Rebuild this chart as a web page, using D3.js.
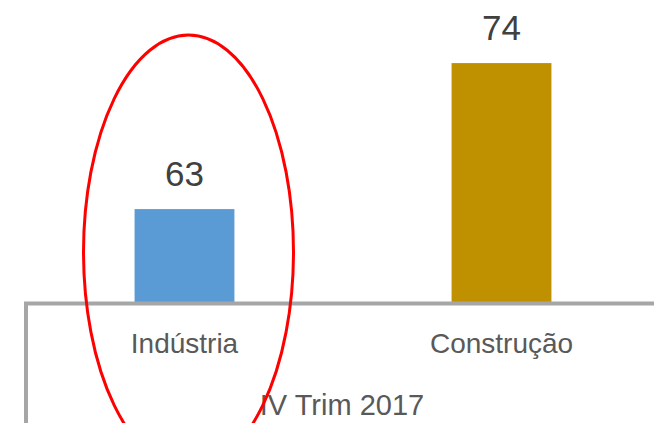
<!DOCTYPE html>
<html>
  <head>
    <meta charset="utf-8">
    <title>IV Trim 2017</title>
    <script src="https://d3js.org/d3.v7.min.js"></script>
    <style>
      body { margin: 0; background: #fff; }
      svg { display: block; font-family: "Liberation Sans", Arial, sans-serif; }
    </style>
  </head>
  <body>
    <div class="chart"></div>
    <script>
      // data
      var categories = ["Indústria", "Construção"];
      var values = [63, 74];
      var colors = ["#5B9BD5", "#BF9000"];
      var groupLabel = "IV Trim 2017";
      var yMin = 56, yMax = 78;

      var width = 654, height = 423;
      var left = 26, right = 660, baseline = 302;

      var svg = d3.select(".chart").append("svg")
        .attr("width", width)
        .attr("height", height);

      var x = d3.scaleBand()
        .domain(categories)
        .range([left, right])
        .paddingInner(0.685)
        .paddingOuter(0.3425);

      var y = d3.scaleLinear()
        .domain([yMin, yMax])
        .range([baseline, 10]);

      // bars
      svg.selectAll("rect.bar")
        .data(values)
        .enter().append("rect")
          .attr("class", "bar")
          .attr("x", (d, i) => x(categories[i]))
          .attr("y", d => y(d))
          .attr("width", x.bandwidth())
          .attr("height", d => baseline - y(d))
          .attr("fill", (d, i) => colors[i]);

      // value labels
      svg.selectAll("text.val")
        .data(values)
        .enter().append("text")
          .attr("class", "val")
          .attr("x", (d, i) => x(categories[i]) + x.bandwidth() / 2)
          .attr("y", d => y(d) - 23)
          .attr("text-anchor", "middle")
          .attr("font-size", 35)
          .attr("fill", "#404040")
          .text(d => d);

      // axis lines
      svg.append("line")
        .attr("x1", left - 2).attr("x2", width)
        .attr("y1", baseline + 1.5).attr("y2", baseline + 1.5)
        .attr("stroke", "#A6A6A6").attr("stroke-width", 4);

      svg.append("line")
        .attr("x1", left).attr("x2", left)
        .attr("y1", baseline).attr("y2", height)
        .attr("stroke", "#A6A6A6").attr("stroke-width", 4);

      // category labels
      svg.selectAll("text.cat")
        .data(categories)
        .enter().append("text")
          .attr("class", "cat")
          .attr("x", d => x(d) + x.bandwidth() / 2)
          .attr("y", 353)
          .attr("text-anchor", "middle")
          .attr("font-size", 28)
          .attr("fill", "#595959")
          .text(d => d);

      svg.append("text")
        .attr("x", 342)
        .attr("y", 415)
        .attr("text-anchor", "middle")
        .attr("font-size", 29)
        .attr("fill", "#595959")
        .text(groupLabel);

      // red highlight ellipse round the first bar
      svg.append("ellipse")
        .attr("cx", x(categories[0]) + x.bandwidth() / 2 + 4)
        .attr("cy", 252)
        .attr("rx", 105)
        .attr("ry", 217)
        .attr("fill", "none")
        .attr("stroke", "#FF0000")
        .attr("stroke-width", 3);
    </script>
  </body>
</html>
